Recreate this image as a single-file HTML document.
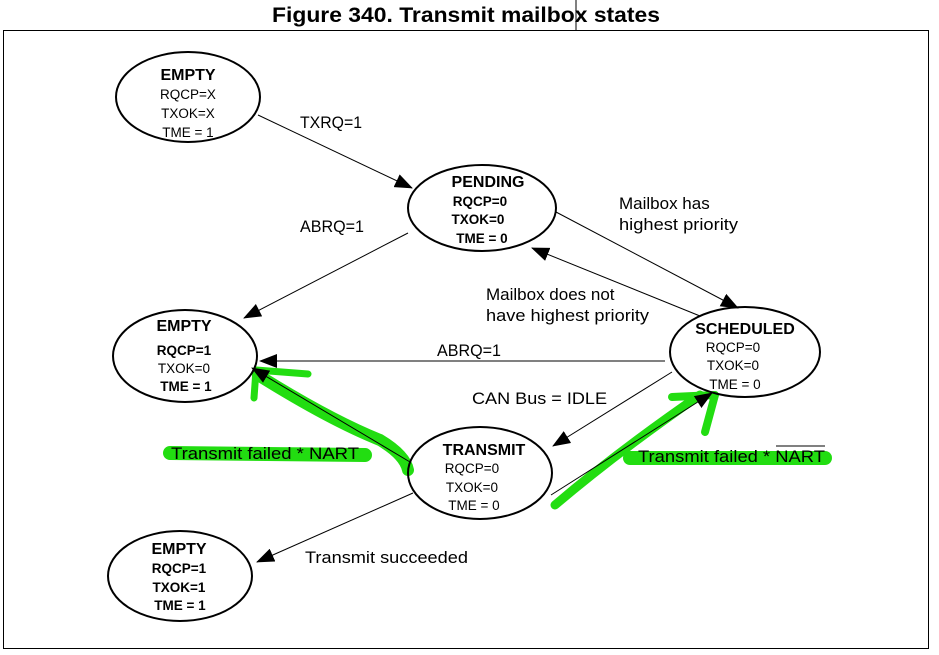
<!DOCTYPE html>
<html><head><meta charset="utf-8"><style>
html,body{margin:0;padding:0;background:#fff;}
svg{display:block;font-family:"Liberation Sans",Arial,sans-serif;}
</style></head><body>
<svg width="939" height="655" viewBox="0 0 939 655" xmlns="http://www.w3.org/2000/svg">
<defs>
<marker id="a" markerWidth="18" markerHeight="14" refX="17" refY="7" orient="auto" markerUnits="userSpaceOnUse">
<path d="M0,0 L18,7 L0,14 z" fill="#000"/></marker>
</defs>
<text x="272" y="22" font-size="21" font-weight="bold" textLength="388" lengthAdjust="spacingAndGlyphs">Figure 340. Transmit mailbox states</text>
<line x1="576" y1="0" x2="576" y2="30" stroke="#000" stroke-width="1"/>
<rect x="3.5" y="30.5" width="925" height="618" fill="none" stroke="#000" stroke-width="1"/>

<!-- green highlights -->
<g stroke="#22dd11" fill="none" stroke-linecap="round" stroke-linejoin="round">
<path d="M254,398 L256,370 L308,374" stroke-width="7"/>
<path d="M258,375 Q330,420 380,440 Q405,455 408,470" stroke-width="12"/>
<path d="M170,453 L365,455" stroke-width="14"/>
<path d="M555,505 Q620,450 700,395" stroke-width="9"/>
<path d="M672,397 L715,395 L705,432" stroke-width="8"/>
<path d="M630,458 L825,458" stroke-width="14"/>
</g>

<!-- ellipses -->
<g fill="none" stroke="#000" stroke-width="2">
<ellipse cx="188" cy="97" rx="72" ry="45"/>
<ellipse cx="482" cy="208" rx="74" ry="43"/>
<ellipse cx="185" cy="356" rx="72" ry="46"/>
<ellipse cx="745" cy="352" rx="75" ry="45"/>
<ellipse cx="480" cy="473" rx="72" ry="46"/>
<ellipse cx="180" cy="576" rx="72" ry="45"/>
</g>

<!-- arrows -->
<g stroke="#000" stroke-width="1" fill="none" marker-end="url(#a)">
<line x1="258" y1="115" x2="412" y2="188"/>
<line x1="408" y1="233" x2="244" y2="318"/>
<line x1="556" y1="212" x2="738" y2="308"/>
<line x1="700" y1="316" x2="532" y2="248"/>
<line x1="665" y1="361" x2="260" y2="361"/>
<line x1="672" y1="372" x2="553" y2="446"/>
<line x1="410" y1="462" x2="252" y2="368"/>
<line x1="551" y1="495" x2="712" y2="393"/>
<line x1="413" y1="493" x2="257" y2="562"/>
</g>

<!-- node text -->
<g font-size="13.5" text-anchor="middle">
<text x="188" y="80" font-size="16" font-weight="bold">EMPTY</text>
<text x="188" y="99">RQCP=X</text>
<text x="188" y="118">TXOK=X</text>
<text x="188" y="137">TME = 1</text>

<text x="488" y="187" font-size="16" font-weight="bold">PENDING</text>
<text x="480" y="206" font-weight="bold">RQCP=0</text>
<text x="478" y="224" font-weight="bold">TXOK=0</text>
<text x="482" y="243" font-weight="bold">TME = 0</text>

<text x="184" y="331" font-size="16" font-weight="bold">EMPTY</text>
<text x="184" y="355" font-weight="bold">RQCP=1</text>
<text x="184" y="373">TXOK=0</text>
<text x="186" y="391" font-weight="bold">TME = 1</text>

<text x="745" y="334" font-size="16" font-weight="bold">SCHEDULED</text>
<text x="733" y="352">RQCP=0</text>
<text x="733" y="370">TXOK=0</text>
<text x="735" y="389">TME = 0</text>

<text x="484" y="455" font-size="16" font-weight="bold">TRANSMIT</text>
<text x="472" y="473">RQCP=0</text>
<text x="472" y="492">TXOK=0</text>
<text x="474" y="510">TME = 0</text>

<text x="179" y="554" font-size="16" font-weight="bold">EMPTY</text>
<text x="179" y="573" font-weight="bold">RQCP=1</text>
<text x="179" y="592" font-weight="bold">TXOK=1</text>
<text x="180" y="610" font-weight="bold">TME = 1</text>
</g>

<!-- edge labels -->
<g font-size="17">
<text x="300" y="128" textLength="62" lengthAdjust="spacingAndGlyphs">TXRQ=1</text>
<text x="300" y="232" textLength="64" lengthAdjust="spacingAndGlyphs">ABRQ=1</text>
<text x="619" y="209">Mailbox has</text>
<text x="619" y="230" textLength="119" lengthAdjust="spacingAndGlyphs">highest priority</text>
<text x="486" y="300">Mailbox does not</text>
<text x="486" y="321" textLength="163" lengthAdjust="spacingAndGlyphs">have highest priority</text>
<text x="437" y="356" textLength="64" lengthAdjust="spacingAndGlyphs">ABRQ=1</text>
<text x="472" y="404" textLength="135" lengthAdjust="spacingAndGlyphs">CAN Bus = IDLE</text>
<text x="171" y="459" textLength="188" lengthAdjust="spacingAndGlyphs">Transmit failed * NART</text>
<text x="638" y="462" textLength="187" lengthAdjust="spacingAndGlyphs">Transmit failed * NART</text>
<text x="305" y="563" textLength="163" lengthAdjust="spacingAndGlyphs">Transmit succeeded</text>
</g>
<line x1="776" y1="446" x2="825" y2="446" stroke="#000" stroke-width="1"/>
</svg>
</body></html>
